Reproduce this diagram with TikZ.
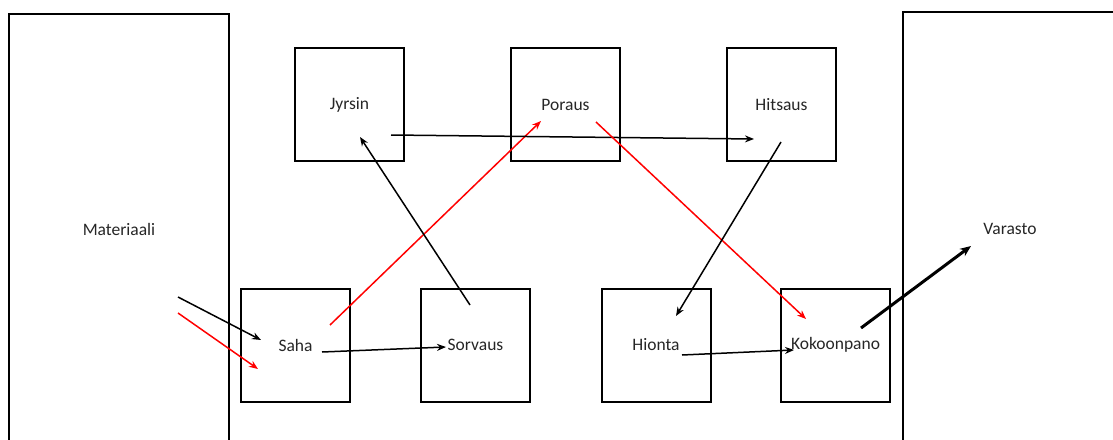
\documentclass[tikz,border=0pt]{standalone}
\usepackage{fontspec}
\setmainfont{Carlito}
\usetikzlibrary{arrows.meta}
\begin{document}
\begin{tikzpicture}[x=1pt,y=-1pt,
  bigbox/.style={draw=black,line width=2pt,minimum width=220pt,inner sep=0pt,font=\fontsize{17.5}{20}\selectfont,text=black!85},
  stbox/.style={draw=black,line width=2pt,minimum width=109pt,minimum height=113pt,inner sep=0pt,font=\fontsize{17.5}{20}\selectfont,text=black!85},
  flow/.style={line width=1.5pt,-{Stealth[length=9pt,width=7pt]}},
  redflow/.style={flow,draw=red,-{Stealth[length=9pt,width=7pt]}}]
\clip (0,0) rectangle (1113,439);
\node[bigbox,minimum height=430pt] (mat) at (119,229) {Materiaali};
\node[bigbox,minimum width=214pt,minimum height=434pt] (var) at (1010,229) {Varasto};
\node[stbox] (jyr) at (349.5,104.5) {Jyrsin};
\node[stbox] (por) at (565.5,104.5) {Poraus};
\node[stbox] (hit) at (781.5,104.5) {Hitsaus};
\node[stbox] (sah) at (295.5,345) {Saha};
\node[stbox] (sor) at (475.5,345) {Sorvaus};
\node[stbox] (hio) at (656,345) {Hionta};
\node[stbox] (kok) at (835.5,345) {Kokoonpano};
% connector end points
\coordinate (m1) at (178,297);
\coordinate (s1) at (261,340);
\coordinate (m2) at (178,313);
\coordinate (s2) at (258,369);
\coordinate (s3) at (322,352);
\coordinate (o1) at (446,347);
\coordinate (s4) at (330,325);
\coordinate (p1) at (541,121);
\coordinate (o2) at (470,305);
\coordinate (j1) at (360,137);
\coordinate (j2) at (391,135);
\coordinate (h1) at (754,139);
\coordinate (p2) at (596,122);
\coordinate (k1) at (806,319);
\coordinate (h2) at (781,142);
\coordinate (i1) at (676,316);
\coordinate (i2) at (682,355);
\coordinate (k2) at (794,350);
\coordinate (k3) at (861,328);
\coordinate (v1) at (971,246);
\draw[flow] (m1) -- (s1);
\draw[redflow] (m2) -- (s2);
\draw[flow] (s3) -- (o1);
\draw[redflow] (s4) -- (p1);
\draw[flow] (o2) -- (j1);
\draw[flow] (j2) -- (h1);
\draw[redflow] (p2) -- (k1);
\draw[flow] (h2) -- (i1);
\draw[flow] (i2) -- (k2);
\draw[line width=3pt,-{Stealth[length=11pt,width=9pt]}] (k3) -- (v1);
\end{tikzpicture}
\end{document}
